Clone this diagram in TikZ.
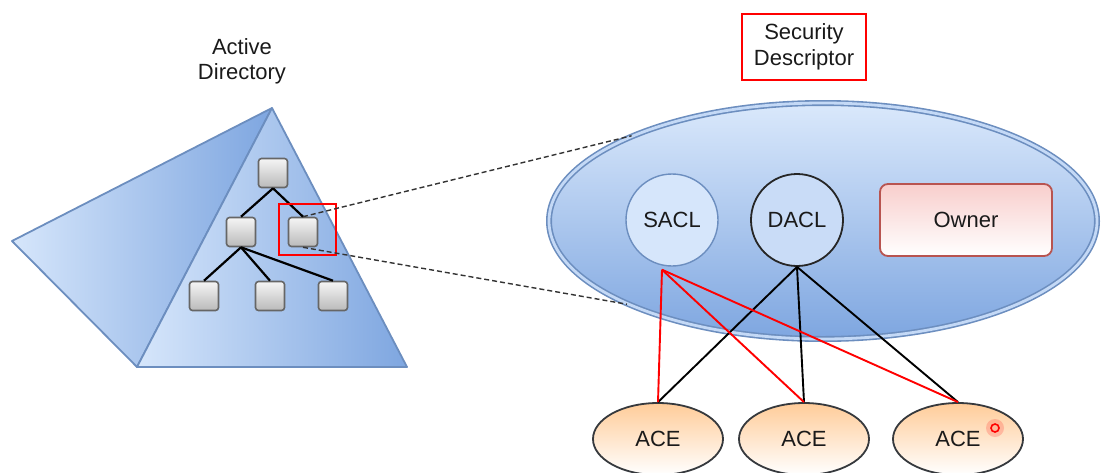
\documentclass[tikz,border=0pt]{standalone}
\usepackage{fontspec}
\setmainfont{Liberation Sans}
\usetikzlibrary{shapes.geometric,calc}
\definecolor{pyrline}{HTML}{6C8EBF}
\definecolor{pyrlight}{HTML}{D6E6FB}
\definecolor{pyrdark}{HTML}{7EA6E0}
\definecolor{txt}{HTML}{1A1A1A}
\definecolor{ownerline}{HTML}{B85450}
\definecolor{ownerfill}{HTML}{F8CECC}
\definecolor{acefill}{HTML}{FFCC99}
\definecolor{aceline}{HTML}{36393D}
\begin{document}
\begin{tikzpicture}[x=1pt,y=-1pt,
  every node/.style={text=txt,font=\fontsize{22}{26}\selectfont},
  treebox/.style={draw=black!60,line width=1.6pt,rounded corners=3pt,minimum size=29pt,inner sep=0pt,top color=black!4,bottom color=black!27},
  treeedge/.style={draw=black,line width=2.2pt},
  focusbox/.style={draw=red,line width=2pt,minimum width=57pt,minimum height=51pt,inner sep=0pt},
  zoomline/.style={draw=black!80,line width=1.4pt,dash pattern=on 5pt off 3pt},
  titlebox/.style={draw=red,line width=1.8pt,fill=white,minimum width=124pt,minimum height=66pt,align=center,inner sep=0pt},
  sdell/.style={ellipse,draw=pyrline,line width=1.6pt,double=pyrlight!80!pyrdark,double distance=2.8pt,minimum width=548pt,minimum height=236pt,inner sep=0pt,top color=pyrlight!90!white,bottom color=pyrdark},
  saclnode/.style={circle,draw=pyrline,line width=1.4pt,fill=pyrlight,minimum size=92pt,inner sep=0pt},
  daclnode/.style={circle,draw=black!85,line width=1.8pt,fill=pyrlight!85!pyrdark,minimum size=92pt,inner sep=0pt},
  ownernode/.style={rectangle,rounded corners=8pt,draw=ownerline,line width=1.8pt,top color=ownerfill,bottom color=white,minimum width=172pt,minimum height=72pt,inner sep=0pt},
  acenode/.style={ellipse,draw=aceline,line width=1.8pt,top color=acefill,bottom color=white,minimum width=130pt,minimum height=72pt,inner sep=0pt},
  redlink/.style={draw=red,line width=1.9pt},
  blacklink/.style={draw=black,line width=1.9pt}
]
\useasboundingbox (0,0) rectangle (1103,472);
% pyramid
\coordinate (apex) at (272,108);
\coordinate (lefttip) at (12,241);
\coordinate (bl) at (137,367);
\coordinate (br) at (407,367);
\filldraw[draw=pyrline,line width=1.8pt,line join=round,left color=pyrlight,right color=pyrdark] (apex) -- (lefttip) -- (bl) -- cycle;
\filldraw[draw=pyrline,line width=1.8pt,line join=round,left color=pyrlight,right color=pyrdark] (apex) -- (bl) -- (br) -- cycle;
% tree
\node[treebox] (t0) at (273,173) {};
\node[treebox] (t1) at (241,232) {};
\node[treebox] (t2) at (303,232) {};
\node[treebox] (t3) at (204,296) {};
\node[treebox] (t4) at (270,296) {};
\node[treebox] (t5) at (333,296) {};
\draw[treeedge] (t0.south) -- (t1.north);
\draw[treeedge] (t0.south) -- (t2.north);
\draw[treeedge] (t1.south) -- (t3.north);
\draw[treeedge] (t1.south) -- (t4.north);
\draw[treeedge] (t1.south) -- (t5.north);
\node[focusbox] (focus) at (307.5,229.5) {};
% labels
\node[align=center,font=\fontsize{22}{25}\selectfont] (adl) at (242,61) {Active\\Directory};
\node[titlebox] (sdl) at (804,47) {Security\\Descriptor};
% security descriptor
\node[sdell] (sd) at (823,221) {};
\draw[zoomline] (t2.north) -- (sd.156.5);
\draw[zoomline] (t2.south) -- (sd.203.5);
\node[saclnode] (sacl) at (672,220) {SACL};
\node[daclnode] (dacl) at (797,220) {DACL};
\node[ownernode] (owner) at (966,220) {Owner};
\node[acenode] (ace1) at (658,439) {ACE};
\node[acenode] (ace2) at (804,439) {ACE};
\node[acenode] (ace3) at (958,439) {ACE};
\draw[blacklink] (dacl.south) -- (ace1.north);
\draw[blacklink] (dacl.south) -- (ace2.north);
\draw[blacklink] (dacl.south) -- (ace3.north);
\coordinate (sb) at ($(sacl.south)+(-10,3)$);
\draw[redlink] (sb) -- (ace1.north);
\draw[redlink] (sb) -- (ace2.north);
\draw[redlink] (sb) -- (ace3.north);
% cursor highlight
\node[circle,draw=red,line width=1.6pt,minimum size=8pt,inner sep=0pt] (cursor) at (995,428) {};
\fill[red,opacity=0.18] (cursor.center) circle (9pt);
\end{tikzpicture}
\end{document}
